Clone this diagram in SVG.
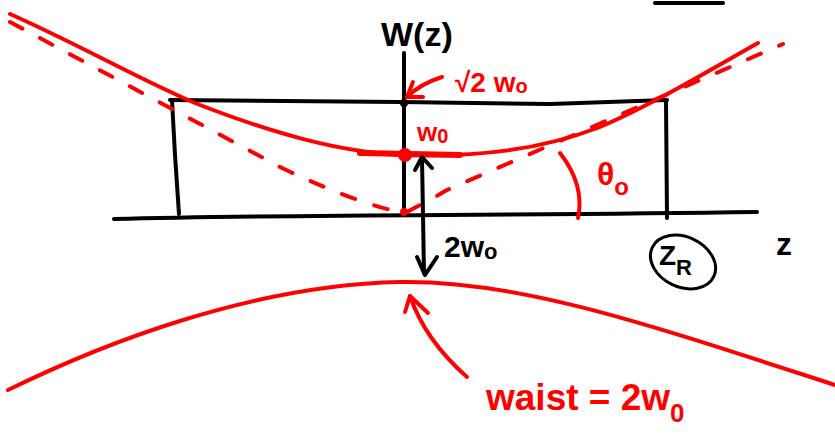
<svg xmlns="http://www.w3.org/2000/svg" width="835" height="438" viewBox="0 0 835 438">
<style>
.k{fill:none;stroke:#000;stroke-width:4;stroke-linecap:round;stroke-linejoin:round}
.r{fill:none;stroke:#f00;stroke-width:4;stroke-linecap:round;stroke-linejoin:round}
.d{stroke-dasharray:14 20}
.tk{fill:#000;font-family:"Liberation Sans",Arial,sans-serif;font-weight:bold}
.tr{fill:#f00;font-family:"Liberation Sans",Arial,sans-serif;font-weight:bold}
</style>
<rect width="835" height="438" fill="#fff"/>
<g id="axes">
<path class="k" d="M655,3 L723,3"/>
<path class="k" d="M114,219 C300,214 500,216 757,212"/>
<path class="k" d="M404,53 L404,214"/>
<circle cx="404" cy="103" r="4" fill="#000"/>
</g>
<g id="rayleigh-box">
<path class="k" d="M172,100 L175,155 L179,214"/>
<path class="k" d="M170,100 L400,102 L550,104 L667,100"/>
<path class="k" d="M666,101 L667,218"/>
</g>
<g id="beam">
<path class="r" d="M10,14 C80,45 150,85 200,105 C270,132 340,153 405,155 C480,157 540,150 600,127 C650,106 710,70 758,43"/>
<path class="r" style="stroke-width:6" d="M360,153 L460,155"/>
<path class="r d" d="M10,22 L282,168 Q360,205 405,213 Q430,200 447,190 L783,44"/>
<path class="r" d="M8,390 C100,345 250,285 400,282 C520,280 650,325 835,385"/>
<circle cx="405" cy="155" r="7" fill="#f00"/>
<circle cx="404" cy="212" r="4" fill="#f00"/>
</g>
<g id="connectors">
<path class="k" d="M422,158 L424,273"/>
<path class="k" d="M415,170 L422,157 L432,168"/>
<path class="k" d="M417,257 L425,275 L437,257"/>
<path class="r" d="M442,77 Q420,84 407,97"/>
<path class="r" d="M413,82 L407,97 L423,97"/>
<path class="r" d="M467,377 Q425,340 410,296"/>
<path class="r" d="M405,312 L410,296 L428,313"/>
<path class="r" d="M560,153 Q585,185 578,218"/>
</g>
<g id="labels">
<text class="tk" x="381" y="46" font-size="34">W(z)</text>
<text class="tr" x="455" y="92" font-size="28">√2 w<tspan font-size="20" dy="1">o</tspan></text>
<text class="tr" x="417" y="141" font-size="26">w<tspan font-size="20" dy="2">0</tspan></text>
<text class="tk" x="444" y="257" font-size="30">2w<tspan font-size="22" dy="2">o</tspan></text>
<text class="tr" x="597" y="185" font-size="32">θ<tspan font-size="24" dy="10">o</tspan></text>
<text class="tk" x="776" y="255" font-size="32">z</text>
<text class="tr" x="486" y="410" font-size="37">waist = 2w<tspan font-size="26" dy="12">0</tspan></text>
</g>
<g id="zr">
<ellipse class="k" style="stroke-width:3" cx="683" cy="262" rx="34" ry="25" transform="rotate(25 683 262)"/>
<text class="tk" x="659" y="265" font-size="28">Z<tspan font-size="22" dy="10">R</tspan></text>
</g>
</svg>
